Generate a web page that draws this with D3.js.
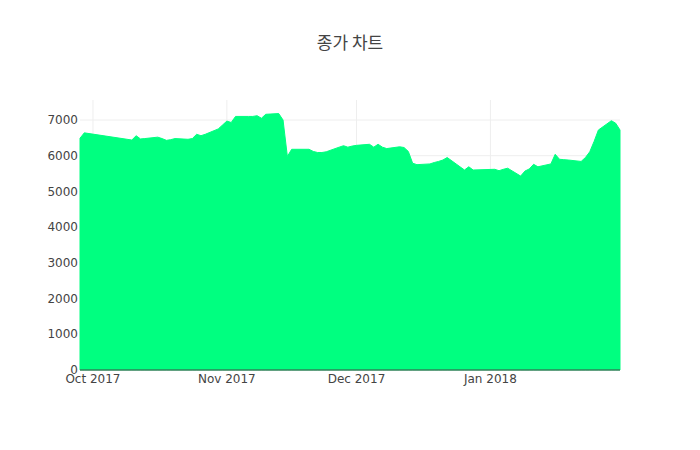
<!DOCTYPE html>
<html>
<head>
<meta charset="utf-8">
<script src="https://cdn.jsdelivr.net/npm/d3@7"></script>
<style>
  body { margin: 0; background: #fff; }
  svg { display: block; }
</style>
</head>
<body>
<svg id="chart" width="700" height="450"></svg>
<script>
const title = "종가 차트";
const dates = [
  "2017-09-28","2017-09-29",
  "2017-10-10","2017-10-11","2017-10-12","2017-10-13","2017-10-16","2017-10-17","2017-10-18","2017-10-19","2017-10-20",
  "2017-10-23","2017-10-24","2017-10-25","2017-10-26","2017-10-27","2017-10-30","2017-10-31",
  "2017-11-01","2017-11-02","2017-11-03","2017-11-06","2017-11-07","2017-11-08","2017-11-09","2017-11-10",
  "2017-11-13","2017-11-14","2017-11-15","2017-11-16","2017-11-17","2017-11-20","2017-11-21","2017-11-22","2017-11-23","2017-11-24",
  "2017-11-27","2017-11-28","2017-11-29","2017-11-30",
  "2017-12-01","2017-12-04","2017-12-05","2017-12-06","2017-12-07","2017-12-08","2017-12-11","2017-12-12","2017-12-13","2017-12-14","2017-12-15",
  "2017-12-18","2017-12-19","2017-12-20","2017-12-21","2017-12-22","2017-12-26","2017-12-27","2017-12-28",
  "2018-01-02","2018-01-03","2018-01-04","2018-01-05","2018-01-08","2018-01-09","2018-01-10","2018-01-11","2018-01-12",
  "2018-01-15","2018-01-16","2018-01-17","2018-01-18","2018-01-19","2018-01-22","2018-01-23","2018-01-24","2018-01-25","2018-01-26",
  "2018-01-29","2018-01-30","2018-01-31"
];
const closes = [
  6490, 6640,
  6440, 6560, 6470, 6480, 6520, 6480, 6430, 6450, 6480,
  6460, 6480, 6600, 6560, 6600, 6750, 6860,
  6970, 6930, 7100, 7100, 7100, 7120, 7050, 7160,
  7180, 7000, 5980, 6180, 6180, 6180, 6120, 6090, 6090, 6110,
  6240, 6280, 6240, 6270,
  6290, 6320, 6240, 6320, 6240, 6200, 6250, 6230, 6120, 5790, 5750,
  5770, 5810, 5840, 5880, 5950, 5600, 5690, 5600,
  5620, 5580, 5620, 5650, 5430, 5570, 5630, 5760, 5690,
  5770, 6040, 5900, 5890, 5880, 5840, 5950, 6110, 6400, 6720,
  6980, 6910, 6720
];
const yTicks = [0, 1000, 2000, 3000, 4000, 5000, 6000, 7000];
const xTickDates = ["2017-10-01", "2017-11-01", "2017-12-01", "2018-01-01"];
const xTickLabels = ["Oct 2017", "Nov 2017", "Dec 2017", "Jan 2018"];

const parse = d3.utcParse("%Y-%m-%d");
const data = dates.map((d, i) => ({ date: parse(d), value: closes[i] }));

const W = 700, H = 450;
const m = { l: 80, r: 80, t: 100, b: 80 };
const svg = d3.select("#chart");
const font = "'DejaVu Sans', verdana, arial, sans-serif";

const x = d3.scaleUtc()
  .domain(d3.extent(data, d => d.date))
  .range([m.l, W - m.r]);
const y = d3.scaleLinear()
  .domain([0, 7560])
  .range([H - m.b, m.t]);

// gridlines
const g = svg.append("g");
g.selectAll("line.vg").data(xTickDates).enter().append("line")
  .attr("x1", d => x(parse(d))).attr("x2", d => x(parse(d)))
  .attr("y1", m.t).attr("y2", H - m.b)
  .attr("stroke", "#eee").attr("stroke-width", 1);
g.selectAll("line.hg").data(yTicks.filter(t => t > 0)).enter().append("line")
  .attr("x1", m.l).attr("x2", W - m.r)
  .attr("y1", d => y(d)).attr("y2", d => y(d))
  .attr("stroke", "#eee").attr("stroke-width", 1);

// area
const area = d3.area()
  .x(d => x(d.date))
  .y0(y(0))
  .y1(d => y(d.value));
svg.append("path").datum(data)
  .attr("d", area)
  .attr("fill", "#00ff80")
  .attr("stroke", "#00ff80")
  .attr("stroke-width", 1)
  .attr("stroke-linejoin", "round");

// zero line
svg.append("line")
  .attr("x1", m.l).attr("x2", W - m.r)
  .attr("y1", y(0)).attr("y2", y(0))
  .attr("stroke", "#444").attr("stroke-width", 1);

// y tick labels
svg.append("g").selectAll("text").data(yTicks).enter().append("text")
  .attr("x", m.l - 2).attr("y", d => y(d)).attr("dy", "0.35em")
  .attr("text-anchor", "end")
  .attr("font-family", font).attr("font-size", 12).attr("fill", "#444")
  .text(d => d);

// x tick labels
svg.append("g").selectAll("text").data(xTickDates).enter().append("text")
  .attr("x", d => x(parse(d))).attr("y", H - m.b + 13)
  .attr("text-anchor", "middle")
  .attr("font-family", font).attr("font-size", 12).attr("fill", "#444")
  .text((d, i) => xTickLabels[i]);

// title
svg.append("text")
  .attr("x", W / 2).attr("y", 49)
  .attr("text-anchor", "middle")
  .attr("font-family", "'Noto Sans CJK KR', 'Open Sans', sans-serif")
  .attr("font-size", 17).attr("fill", "#444")
  .text(title);
</script>
</body>
</html>
